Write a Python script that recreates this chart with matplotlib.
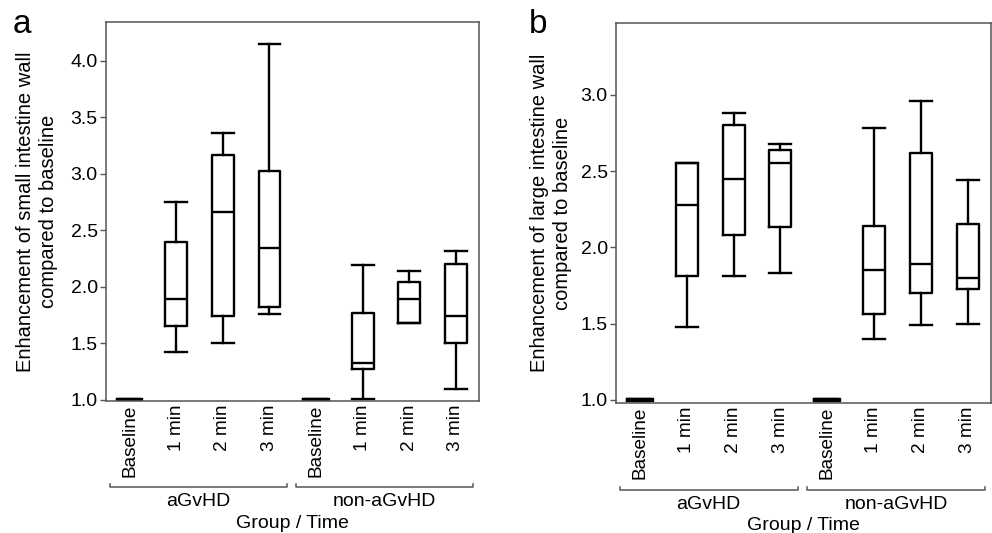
import matplotlib.pyplot as plt
import matplotlib.transforms as mtransforms

plt.rcParams['font.family'] = ['Liberation Sans', 'DejaVu Sans']

time_labels = ['Baseline', '1 min', '2 min', '3 min', 'Baseline', '1 min', '2 min', '3 min']
groups = ['aGvHD', 'non-aGvHD']

# small intestine: whisker low, q1, median, q3, whisker high
small_lo = [1.0, 1.42, 1.50, 1.76, 1.0, 1.01, 1.68, 1.10]
small_q1 = [1.0, 1.65, 1.74, 1.82, 1.0, 1.27, 1.68, 1.50]
small_med = [1.0, 1.89, 2.66, 2.34, 1.0, 1.33, 1.89, 1.74]
small_q3 = [1.0, 2.40, 3.17, 3.03, 1.0, 1.77, 2.04, 2.20]
small_hi = [1.0, 2.75, 3.36, 4.15, 1.0, 2.19, 2.14, 2.32]

# large intestine
large_lo = [1.0, 1.48, 1.81, 1.83, 1.0, 1.40, 1.49, 1.50]
large_q1 = [1.0, 1.81, 2.08, 2.13, 1.0, 1.56, 1.70, 1.73]
large_med = [1.0, 2.28, 2.45, 2.55, 1.0, 1.85, 1.89, 1.80]
large_q3 = [1.0, 2.55, 2.80, 2.64, 1.0, 2.14, 2.62, 2.15]
large_hi = [1.0, 2.55, 2.88, 2.68, 1.0, 2.78, 2.96, 2.44]

FS = 14


def make_stats(lo, q1, med, q3, hi):
    return [dict(whislo=a, q1=b, med=c, q3=d, whishi=e, fliers=[])
            for a, b, c, d, e in zip(lo, q1, med, q3, hi)]


def draw_panel(ax, stats, ylim, yticks, ylabel, letter, letter_x):
    pos = list(range(1, len(stats) + 1))
    base_idx = [i for i, t in enumerate(time_labels) if t == 'Baseline']
    other_idx = [i for i in range(len(stats)) if i not in base_idx]
    lw = 1.7
    ax.bxp([stats[i] for i in other_idx], positions=[pos[i] for i in other_idx],
           widths=0.47, showfliers=False, capwidths=0.47,
           boxprops=dict(color='black', linewidth=lw),
           medianprops=dict(color='black', linewidth=lw),
           whiskerprops=dict(color='black', linewidth=lw),
           capprops=dict(color='black', linewidth=lw))
    ax.bxp([stats[i] for i in base_idx], positions=[pos[i] for i in base_idx],
           widths=0.5, showfliers=False, capwidths=0.5,
           boxprops=dict(color='black', linewidth=3),
           medianprops=dict(color='black', linewidth=3),
           whiskerprops=dict(color='black', linewidth=3),
           capprops=dict(color='black', linewidth=3))
    ax.set_xlim(0.49, 8.5)
    ax.set_ylim(*ylim)
    ax.set_yticks(yticks)
    ax.set_yticklabels([f'{v:.1f}' for v in yticks], fontsize=FS)
    ax.set_xticks(pos)
    ax.set_xticklabels(time_labels, rotation=90, fontsize=FS - 0.3, va='top')
    ax.tick_params(axis='x', length=0, pad=2.5)
    ax.tick_params(axis='y', length=4, color='#555555', width=1, pad=2)
    for sp in ax.spines.values():
        sp.set_color('#555555')
        sp.set_linewidth(1.1)
    ax.set_ylabel(ylabel, fontsize=FS + 0.5, linespacing=1.25)

    # group brackets
    trans = mtransforms.blended_transform_factory(ax.transData, ax.transAxes)
    yb = -0.228
    for (x0, x1), name in zip([(0.57, 4.37), (4.56, 8.38)], groups):
        ax.plot([x0, x0, x1, x1], [yb + 0.008, yb, yb, yb + 0.008], color='#555555',
                lw=1.1, transform=trans, clip_on=False)
        ax.text((x0 + x1) / 2, yb - 0.016, name, transform=trans, ha='center', va='top',
                fontsize=FS)
    ax.text(0.5, -0.30, 'Group / Time', transform=ax.transAxes, ha='center', va='top',
            fontsize=FS)
    ax.figure.text(letter_x, 0.938, letter, fontsize=24, ha='left', va='baseline')


fig = plt.figure(figsize=(9.92, 5.33), dpi=100)
ax1 = fig.add_axes([0.1069, 0.2477, 0.376, 0.711])
ax2 = fig.add_axes([0.621, 0.2439, 0.378, 0.713])

draw_panel(ax1, make_stats(small_lo, small_q1, small_med, small_q3, small_hi),
           (0.99, 4.345), [1.0, 1.5, 2.0, 2.5, 3.0, 3.5, 4.0],
           'Enhancement of small intestine wall\ncompared to baseline', 'a', 0.013)
ax1.yaxis.set_label_coords(-0.13, 0.5)

draw_panel(ax2, make_stats(large_lo, large_q1, large_med, large_q3, large_hi),
           (0.98, 3.47), [1.0, 1.5, 2.0, 2.5, 3.0],
           'Enhancement of large intestine wall\ncompared to baseline', 'b', 0.533)
ax2.yaxis.set_label_coords(-0.117, 0.5)

fig.savefig('out.png', dpi=100)
